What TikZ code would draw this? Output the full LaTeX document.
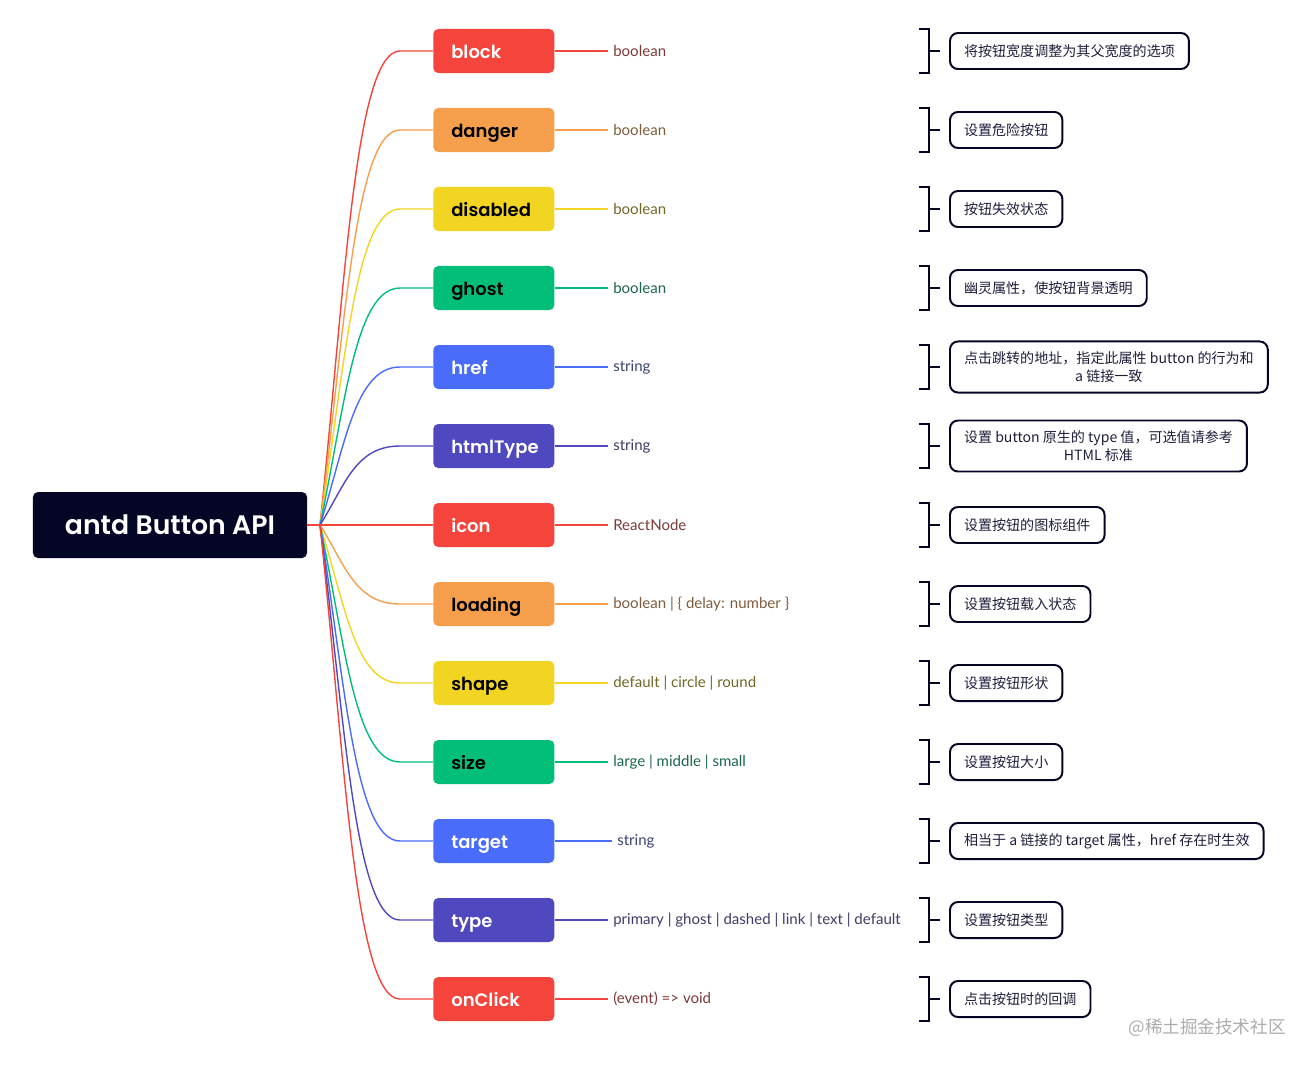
\documentclass[tikz,border=0pt]{standalone}
\usepackage{fontspec}
\setmainfont{Poppins}[BoldFont=Poppins SemiBold]
\newfontfamily\valfont{Lato}
\newfontfamily\cjk{Noto Sans CJK SC}
\usetikzlibrary{calc}

\definecolor{navy}{RGB}{5,5,38}
\definecolor{cR}{RGB}{245,68,59}
\definecolor{cO}{RGB}{245,159,77}
\definecolor{cY}{RGB}{242,212,34}
\definecolor{cG}{RGB}{2,190,120}
\definecolor{cB}{RGB}{74,108,250}
\definecolor{cI}{RGB}{80,72,190}
\colorlet{tR}{cR!50!black!75!gray}
\colorlet{tO}{cO!50!black!75!gray}
\colorlet{tY}{cY!45!black!80!gray}
\colorlet{tG}{cG!50!black!80!gray}
\colorlet{tB}{cB!45!black!75!gray}
\colorlet{tI}{cI!50!black!75!gray}

\tikzset{
  cat/.style={anchor=west, rounded corners=0.125cm, text width=2.125cm, inner xsep=0.45cm,
    minimum height=1.1cm, align=left, text height=1em, text depth=0em,
    font=\fontsize{12.8}{15}\selectfont\bfseries},
  val/.style={anchor=west, inner xsep=0.125cm, font=\valfont\fontsize{10.7}{12}\selectfont},
  desc/.style={anchor=west, draw=navy, line width=1.4pt, rounded corners=0.2cm, inner xsep=0.35cm,
    inner ysep=0.25cm, minimum height=0.9cm, align=center, text=navy!90,
    font=\cjk\fontsize{10}{12.8}\selectfont},
  link/.style={line width=1pt},
  branch/.style={to path={.. controls ($(\tikztostart)!.5!(\tikztostart|-\tikztotarget)+(25,0)$)
    and ($(\tikztotarget)+(-78,0)$) .. ($(\tikztotarget)+(-33,0)$) -- (\tikztotarget)}},
  brk/.pic={\draw[navy, line width=1.4pt] (-10,-22) -- (0,-22) -- (0,22) -- (-10,22) (0,0) -- (11,0);}
}

\begin{document}
\begin{tikzpicture}[x=0.025cm, y=-0.025cm]
    \useasboundingbox (0,0) rectangle (1314,1066);
    \node[fill=navy, text=white, rounded corners=0.125cm, minimum width=6.85cm, minimum height=1.65cm,
      font=\fontsize{19}{23}\selectfont\bfseries] (root) at (170,525) {antd Button API};
    \coordinate (o) at (320,525);

    \node[cat, fill=cR, text=white] (block) at (433,51) {block};
    \node[val, text=tR] (blockv) at (608,51) {boolean};
    \draw[link, cR] (block) -- (blockv);
    \draw[link, branch, cR] (o) to (block.west);
    \pic at (929,51) {brk};
    \node[desc] (blockd) at (949,51) {将按钮宽度调整为其父宽度的选项};

    \node[cat, fill=cO] (danger) at (433,130) {danger};
    \node[val, text=tO] (dangerv) at (608,130) {boolean};
    \draw[link, cO] (danger) -- (dangerv);
    \draw[link, branch, cO] (o) to (danger.west);
    \pic at (929,130) {brk};
    \node[desc] (dangerd) at (949,130) {设置危险按钮};

    \node[cat, fill=cY] (disabled) at (433,209) {disabled};
    \node[val, text=tY] (disabledv) at (608,209) {boolean};
    \draw[link, cY] (disabled) -- (disabledv);
    \draw[link, branch, cY] (o) to (disabled.west);
    \pic at (929,209) {brk};
    \node[desc] (disabledd) at (949,209) {按钮失效状态};

    \node[cat, fill=cG] (ghost) at (433,288) {ghost};
    \node[val, text=tG] (ghostv) at (608,288) {boolean};
    \draw[link, cG] (ghost) -- (ghostv);
    \draw[link, branch, cG] (o) to (ghost.west);
    \pic at (929,288) {brk};
    \node[desc] (ghostd) at (949,288) {幽灵属性，使按钮背景透明};

    \node[cat, fill=cB, text=white] (href) at (433,367) {href};
    \node[val, text=tB] (hrefv) at (608,367) {string};
    \draw[link, cB] (href) -- (hrefv);
    \draw[link, branch, cB] (o) to (href.west);
    \pic at (929,367) {brk};
    \node[desc] (hrefd) at (949,367) {点击跳转的地址，指定此属性 button 的行为和\\a 链接一致};

    \node[cat, fill=cI, text=white] (htmlType) at (433,446) {htmlType};
    \node[val, text=tI] (htmlTypev) at (608,446) {string};
    \draw[link, cI] (htmlType) -- (htmlTypev);
    \draw[link, branch, cI] (o) to (htmlType.west);
    \pic at (929,446) {brk};
    \node[desc] (htmlTyped) at (949,446) {设置 button 原生的 type 值，可选值请参考\\HTML 标准};

    \node[cat, fill=cR, text=white] (icon) at (433,525) {icon};
    \node[val, text=tR] (iconv) at (608,525) {ReactNode};
    \draw[link, cR] (icon) -- (iconv);
    \draw[link, cR] (root) -- (icon);
    \pic at (929,525) {brk};
    \node[desc] (icond) at (949,525) {设置按钮的图标组件};

    \node[cat, fill=cO] (loading) at (433,604) {loading};
    \node[val, text=tO] (loadingv) at (608,604) {boolean | \{ delay: number \}};
    \draw[link, cO] (loading) -- (loadingv);
    \draw[link, branch, cO] (o) to (loading.west);
    \pic at (929,604) {brk};
    \node[desc] (loadingd) at (949,604) {设置按钮载入状态};

    \node[cat, fill=cY] (shape) at (433,683) {shape};
    \node[val, text=tY] (shapev) at (608,683) {default | circle | round};
    \draw[link, cY] (shape) -- (shapev);
    \draw[link, branch, cY] (o) to (shape.west);
    \pic at (929,683) {brk};
    \node[desc] (shaped) at (949,683) {设置按钮形状};

    \node[cat, fill=cG] (size) at (433,762) {size};
    \node[val, text=tG] (sizev) at (608,762) {large | middle | small};
    \draw[link, cG] (size) -- (sizev);
    \draw[link, branch, cG] (o) to (size.west);
    \pic at (929,762) {brk};
    \node[desc] (sized) at (949,762) {设置按钮大小};

    \node[cat, fill=cB, text=white] (target) at (433,841) {target};
    \node[val, text=tB] (targetv) at (612,841) {string};
    \draw[link, cB] (target) -- (targetv);
    \draw[link, branch, cB] (o) to (target.west);
    \pic at (929,841) {brk};
    \node[desc] (targetd) at (949,841) {相当于 a 链接的 target 属性，href 存在时生效};

    \node[cat, fill=cI, text=white] (type) at (433,920) {type};
    \node[val, text=tI] (typev) at (608,920) {primary | ghost | dashed | link | text | default};
    \draw[link, cI] (type) -- (typev);
    \draw[link, branch, cI] (o) to (type.west);
    \pic at (929,920) {brk};
    \node[desc] (typed) at (949,920) {设置按钮类型};

    \node[cat, fill=cR, text=white] (onClick) at (433,999) {onClick};
    \node[val, text=tR] (onClickv) at (608,999) {(event) => void};
    \draw[link, cR] (onClick) -- (onClickv);
    \draw[link, branch, cR] (o) to (onClick.west);
    \pic at (929,999) {brk};
    \node[desc] (onClickd) at (949,999) {点击按钮时的回调};

    \node[text=gray!65, font=\cjk\fontsize{12.5}{14}\selectfont] (mark) at (1207,1028) {@稀土掘金技术社区};
\end{tikzpicture}
\end{document}
